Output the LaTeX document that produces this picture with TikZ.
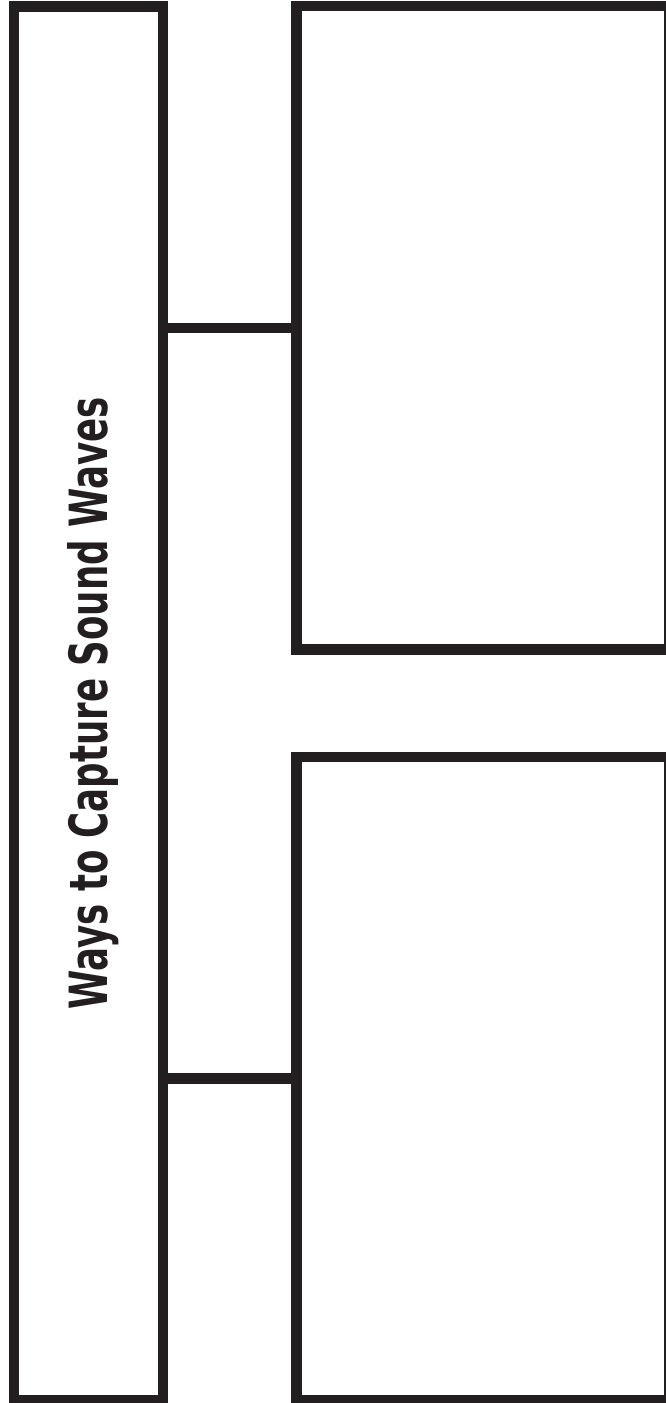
\documentclass[tikz,border=0pt]{standalone}
\usepackage{fontspec}
\usepackage{tikz}
\usetikzlibrary{positioning,calc}
\newfontfamily\titlefont{DejaVu Sans Condensed}
\definecolor{cInk}{HTML}{231F20}
\tikzset{
  frame/.style={draw=cInk, line width=0.21cm, fill=white, inner sep=0pt},
  link/.style={cInk, line width=0.21cm},
  ttl/.style={font=\titlefont\bfseries\fontsize{30}{30}\selectfont, text=cInk, rotate=90}
}
\begin{document}
\begin{tikzpicture}[x=0.02cm, y=-0.02cm]
\useasboundingbox (0,0) rectangle (666,1403);
\node[frame, minimum width=2.98cm, minimum height=27.88cm] (side) at (88.3,703.3) {};
\node[frame, minimum width=7.46cm, minimum height=12.87cm] (top) at (483.1,327.9) {};
\node[frame, minimum width=7.46cm, minimum height=12.87cm] (bot) at (483.1,1078.6) {};
\node[ttl] (title) at ($(side.center)+(5,0)$) {\scalebox{0.75}[1]{Ways to Capture Sound Waves}};
\draw[link] (side.east |- top.west) -- (top.west);
\draw[link] (side.east |- bot.west) -- (bot.west);
\end{tikzpicture}
\end{document}
